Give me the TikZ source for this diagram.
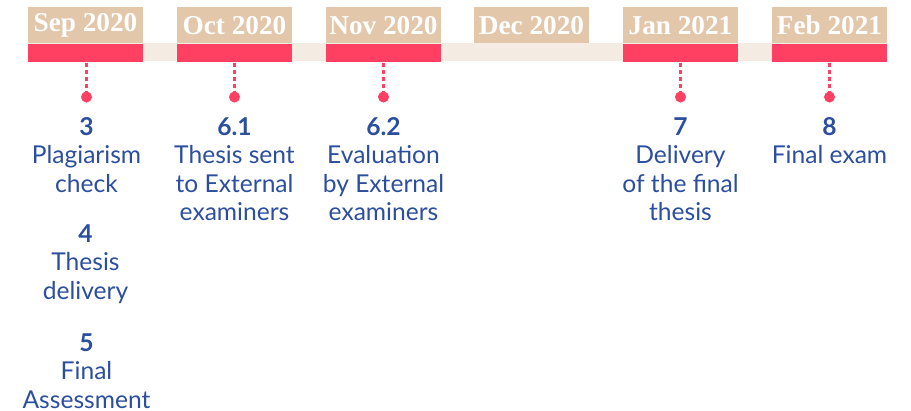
\documentclass[tikz,border=0pt]{standalone}
\usepackage{fontspec}
\setmainfont{Lato}
\newfontfamily\monthfont{Liberation Serif}
\usepackage{xcolor}
\usetikzlibrary{positioning}

\definecolor{tlred}{HTML}{FF4062}
\definecolor{tlbeige}{HTML}{E2C7AA}
\definecolor{tlband}{HTML}{F4EBE3}
\definecolor{tlblue}{HTML}{2C4E9E}

\tikzset{
	month/.style={fill=tlbeige, text=white, inner sep=0pt, minimum width=2.3cm, minimum height=0.72cm,
		font=\monthfont\bfseries\fontsize{15.5}{16}\selectfont},
	monthbar/.style={fill=tlred, inner sep=0pt, minimum width=2.3cm, minimum height=0.36cm},
	dot/.style={circle, fill=tlred, inner sep=0pt, minimum size=6.3pt},
	tick/.style={tlred, line width=1.7pt, dash pattern=on 2.3pt off 1.7pt},
	itemtext/.style={text=tlblue, align=center, inner sep=0pt, anchor=north,
		font=\fontsize{14}{16.2}\selectfont}
}

\begin{document}
\begin{tikzpicture}[x=0.02cm,y=-0.02cm]
			\useasboundingbox (0,0) rectangle (911,411);
			\fill[tlband] (28,43) rectangle (887,61);
			% months
			\node[month] at (85.5,25.5) (sep) {Sep 2020};
			\node[month] at (234.5,25.5) (oct) {Oct 2020};
			\node[month] at (383.5,25.5) (nov) {Nov 2020};
			\node[month] at (531.5,25.5) (dec) {Dec 2020};
			\node[month] at (680.5,25.5) (jan) {Jan 2021};
			\node[month] at (829.5,25.5) (feb) {Feb 2021};
			% bars
			\node[monthbar, anchor=north] at (sep.south) (sepbar) {};
			\node[monthbar, anchor=north] at (oct.south) (octbar) {};
			\node[monthbar, anchor=north] at (nov.south) (novbar) {};
			\node[monthbar, anchor=north] at (jan.south) (janbar) {};
			\node[monthbar, anchor=north] at (feb.south) (febbar) {};
			% dots
			\node[dot] at (86.5,97) (sepdot) {};
			\node[dot] at (234.5,97) (octdot) {};
			\node[dot] at (383.5,97) (novdot) {};
			\node[dot] at (680.5,97) (jandot) {};
			\node[dot] at (829.5,97) (febdot) {};
			\draw[tick] (sepbar.south -| sepdot) -- (sepdot);
			\draw[tick] (octbar.south) -- (octdot);
			\draw[tick] (novbar.south) -- (novdot);
			\draw[tick] (janbar.south) -- (jandot);
			\draw[tick] (febbar.south) -- (febdot);
			% steps
			\node[itemtext] at (86.5,117) (s3) {\textbf{3}\\Plagiarism\\check};
			\node[itemtext] at (85.5,224) (s4) {\textbf{4}\\Thesis\\delivery};
			\node[itemtext] at (86.5,333) (s5) {\textbf{5}\\Final\\Assessment};
			\node[itemtext] at (234.5,117) (s61) {\textbf{6.1}\\Thesis sent\\to External\\examiners};
			\node[itemtext] at (383.5,117) (s62) {\textbf{6.2}\\Evaluation\\by External\\examiners};
			\node[itemtext] at (680.5,117) (s7) {\textbf{7}\\Delivery\\of the final\\thesis};
			\node[itemtext] at (829.5,117) (s8) {\textbf{8}\\Final exam};
		\end{tikzpicture}
\end{document}
